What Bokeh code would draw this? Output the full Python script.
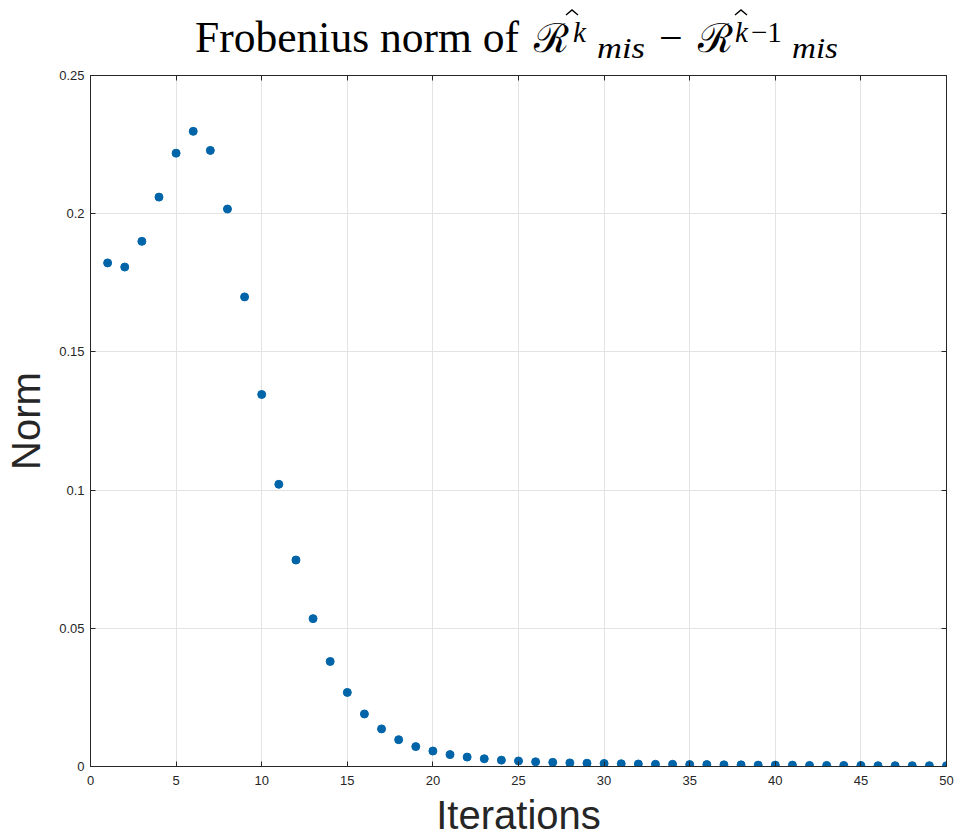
from bokeh.plotting import figure
from bokeh.layouts import column
from bokeh.models import ColumnDataSource, LinearAxis, NumeralTickFormatter, FixedTicker, Range1d, CustomJSTickFormatter, Div
from bokeh.embed import file_html
from bokeh.resources import INLINE

iterations = list(range(1, 51))
norm_values = [
    0.1822, 0.1807, 0.1900, 0.2060, 0.2219, 0.2298, 0.2229, 0.2017, 0.1699, 0.1346,
    0.1021, 0.0747, 0.0535, 0.0380, 0.0268, 0.0190, 0.0136, 0.0097, 0.0072, 0.0056,
    0.0043, 0.0034, 0.0028, 0.0023, 0.0020, 0.0017, 0.0015, 0.0013, 0.0012, 0.0011,
    0.0010, 0.0009, 0.0008, 0.0008, 0.0007, 0.0007, 0.0006, 0.0006, 0.0005, 0.0005,
    0.0005, 0.0004, 0.0004, 0.0004, 0.0004, 0.0003, 0.0003, 0.0003, 0.0003, 0.0003,
]
x_ticks = [0, 5, 10, 15, 20, 25, 30, 35, 40, 45, 50]
y_ticks = [0, 0.05, 0.1, 0.15, 0.2, 0.25]

W, H = 954, 839
TH = 65  # height of the title strip

# ---------- title strip (inline SVG text, math-like layout) ----------
title_parts = [
    # text, left x, baseline y, size, font, style, forced width (0 = natural)
    ("Frobenius norm of", 195, 52, 44, "Liberation Serif", "normal", 324),
    ("\u211b", 534, 52, 40, "DejaVu Serif", "normal", 0),
    ("k", 573, 42, 29, "Liberation Serif", "italic", 0),
    ("mis", 597, 58, 29, "Liberation Serif", "italic", 48),
    ("\u2212", 659, 52, 42, "Liberation Serif", "normal", 0),
    ("\u211b", 698, 52, 40, "DejaVu Serif", "normal", 0),
    ("k", 735, 42, 29, "Liberation Serif", "italic", 0),
    ("\u22121", 751, 42, 29, "Liberation Serif", "normal", 0),
    ("mis", 792, 58, 29, "Liberation Serif", "italic", 46),
]
hats = [(572, 10), (741, 10)]  # circumflex accents (apex positions)

svg_items = []
for txt, tx, ty, fs, fnt, sty, tl in title_parts:
    extra = f' textLength="{tl}" lengthAdjust="spacingAndGlyphs"' if tl else ""
    svg_items.append(
        f'<text x="{tx}" y="{ty}"{extra} style="font-family:\'{fnt}\';font-size:{fs}px;'
        f'font-style:{sty};font-weight:normal;fill:#000">{txt}</text>')
for hx, hy in hats:
    svg_items.append(
        f'<polyline points="{hx-6},{hy+5} {hx},{hy} {hx+6},{hy+5}" '
        f'style="fill:none;stroke:#000;stroke-width:1.4"/>')
svg = (f'<svg xmlns="http://www.w3.org/2000/svg" width="{W}" height="{TH}" '
       f'style="display:block">' + "".join(svg_items) + "</svg>")
title_div = Div(text=svg, width=W, height=TH, margin=0)

# ---------- main plot ----------
src = ColumnDataSource(dict(x=iterations, y=norm_values))

p = figure(width=W, height=H - TH, output_backend="svg", toolbar_location=None,
           x_range=Range1d(0, 50), y_range=Range1d(0, 0.25),
           min_border_left=90, min_border_right=8, min_border_bottom=71, min_border_top=10)

p.scatter("x", "y", source=src, size=8, color="#0064a8", marker="circle")

axis_color = "#262626"
for ax in [p.xaxis[0], p.yaxis[0]]:
    ax.major_tick_in = 5
    ax.major_tick_out = 0
    ax.minor_tick_line_color = None
    ax.axis_line_color = axis_color
    ax.major_tick_line_color = axis_color
    ax.major_label_text_font = "Liberation Sans"
    ax.major_label_text_font_size = "13px"
    ax.major_label_text_color = axis_color
    ax.axis_label_text_font = "Liberation Sans"
    ax.axis_label_text_font_size = "40px"
    ax.axis_label_text_font_style = "normal"
    ax.axis_label_text_color = axis_color

p.xaxis.ticker = FixedTicker(ticks=x_ticks)
p.yaxis.ticker = FixedTicker(ticks=y_ticks)
p.yaxis.formatter = NumeralTickFormatter(format="0.[00]")
p.xaxis.axis_label = "Iterations"
p.yaxis.axis_label = "Norm"
p.xaxis.major_label_standoff = 9
p.yaxis.major_label_standoff = 6
p.xaxis.axis_label_standoff = 5
p.yaxis.axis_label_standoff = 8

# mirrored inward ticks on top and right (no labels)
blank = CustomJSTickFormatter(code="return '';")
top_ax = LinearAxis(ticker=FixedTicker(ticks=x_ticks), formatter=blank,
                    major_tick_in=5, major_tick_out=0, minor_tick_line_color=None,
                    axis_line_color=axis_color, major_tick_line_color=axis_color,
                    major_label_standoff=0)
right_ax = LinearAxis(ticker=FixedTicker(ticks=y_ticks), formatter=blank,
                      major_tick_in=5, major_tick_out=0, minor_tick_line_color=None,
                      axis_line_color=axis_color, major_tick_line_color=axis_color,
                      major_label_standoff=0)
p.add_layout(top_ax, "above")
p.add_layout(right_ax, "right")

p.xgrid.ticker = FixedTicker(ticks=x_ticks)
p.ygrid.ticker = FixedTicker(ticks=y_ticks)
p.grid.grid_line_color = "#e3e3e3"
p.grid.grid_line_width = 1

p.outline_line_color = axis_color
p.outline_line_alpha = 1
p.outline_line_width = 1

layout = column(title_div, p, spacing=0)
out = file_html(layout, INLINE)
open("out.html", "w").write(out)
